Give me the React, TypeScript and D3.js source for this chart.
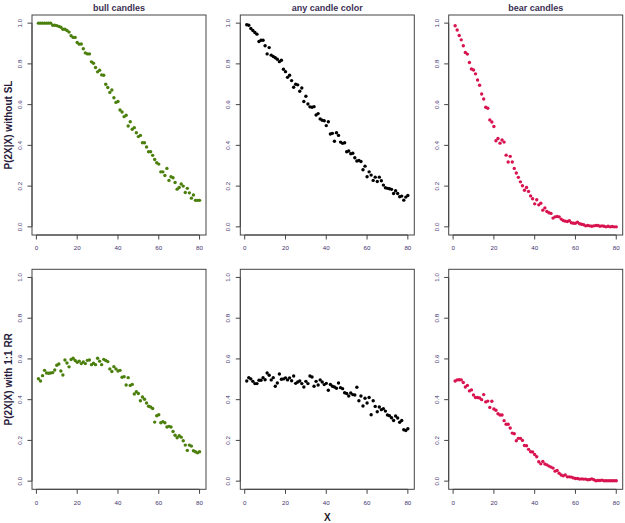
import * as d3 from 'd3'

// x position of each point (lookback X)
const xValues = d3.range(1, 81)

const xTicks = [0, 20, 40, 60, 80]
const yTicks = [0, 0.2, 0.4, 0.6, 0.8, 1.0]

const titles = ['bull candles', 'any candle color', 'bear candles']
const rowLabels = ['P(2X|X) without SL', 'P(2X|X) with 1:1 RR']

// P(2X|X) without SL
const bullNoSL = [
  1.0, 1.0, 1.0, 1.0, 1.0, 1.0, 1.0, 0.99, 0.99, 0.988,
  0.984, 0.98, 0.97, 0.97, 0.964, 0.956, 0.938, 0.93, 0.93, 0.905,
  0.897, 0.898, 0.874, 0.854, 0.849, 0.849, 0.81, 0.803, 0.782, 0.761,
  0.769, 0.746, 0.744, 0.70, 0.684, 0.66, 0.672, 0.634, 0.611, 0.615,
  0.574, 0.564, 0.541, 0.548, 0.495, 0.516, 0.479, 0.487, 0.462, 0.443,
  0.449, 0.413, 0.413, 0.392, 0.369, 0.369, 0.351, 0.331, 0.315, 0.308,
  0.27, 0.27, 0.252, 0.287, 0.228, 0.246, 0.241, 0.218, 0.185, 0.193,
  0.21, 0.20, 0.169, 0.189, 0.167, 0.141, 0.156, 0.13, 0.13, 0.13,
]
const anyNoSL = [
  0.992, 0.99, 0.974, 0.964, 0.954, 0.946, 0.91, 0.916, 0.916, 0.889,
  0.849, 0.88, 0.843, 0.836, 0.83, 0.823, 0.811, 0.818, 0.774, 0.762,
  0.734, 0.744, 0.718, 0.685, 0.70, 0.697, 0.666, 0.682, 0.615, 0.641,
  0.603, 0.589, 0.587, 0.59, 0.549, 0.556, 0.53, 0.523, 0.521, 0.497,
  0.516, 0.456, 0.459, 0.42, 0.462, 0.449, 0.416, 0.41, 0.413, 0.369,
  0.372, 0.359, 0.361, 0.339, 0.323, 0.326, 0.321, 0.28, 0.298, 0.246,
  0.27, 0.254, 0.228, 0.244, 0.223, 0.244, 0.226, 0.205, 0.192, 0.189,
  0.187, 0.184, 0.164, 0.177, 0.164, 0.148, 0.151, 0.131, 0.146, 0.154,
]
const bearNoSL = [
  0.987, 0.966, 0.939, 0.918, 0.889, 0.856, 0.848, 0.807, 0.775, 0.77,
  0.751, 0.721, 0.695, 0.652, 0.628, 0.587, 0.582, 0.525, 0.515, 0.493,
  0.423, 0.434, 0.411, 0.426, 0.416, 0.352, 0.318, 0.346, 0.318, 0.287,
  0.264, 0.243, 0.221, 0.202, 0.18, 0.193, 0.174, 0.152, 0.138, 0.113,
  0.133, 0.108, 0.116, 0.082, 0.093, 0.075, 0.069, 0.066, 0.043, 0.049,
  0.051, 0.049, 0.038, 0.031, 0.028, 0.026, 0.03, 0.02, 0.018, 0.018,
  0.023, 0.015, 0.013, 0.01, 0.005, 0.007, 0.005, 0.003, 0.005, 0.007,
  0.007, 0.003, 0.005, 0.003, 0.0, 0.003, 0.0, 0.002, 0.0, 0.0,
]

// P(2X|X) with 1:1 RR
const bullRR = [
  0.503, 0.492, 0.518, 0.544, 0.531, 0.53, 0.531, 0.533, 0.546, 0.569,
  0.575, 0.541, 0.521, 0.595, 0.58, 0.561, 0.597, 0.603, 0.592, 0.584,
  0.589, 0.577, 0.585, 0.577, 0.593, 0.595, 0.572, 0.579, 0.572, 0.603,
  0.589, 0.572, 0.598, 0.592, 0.587, 0.551, 0.538, 0.562, 0.551, 0.541,
  0.544, 0.51, 0.513, 0.472, 0.508, 0.47, 0.475, 0.428, 0.439, 0.43,
  0.395, 0.413, 0.402, 0.384, 0.368, 0.364, 0.357, 0.29, 0.321, 0.326,
  0.287, 0.292, 0.287, 0.266, 0.269, 0.266, 0.244, 0.225, 0.213, 0.223,
  0.216, 0.198, 0.177, 0.151, 0.177, 0.172, 0.149, 0.144, 0.139, 0.144,
]
const anyRR = [
  0.492, 0.508, 0.502, 0.49, 0.479, 0.479, 0.495, 0.495, 0.508, 0.498,
  0.531, 0.52, 0.497, 0.508, 0.466, 0.482, 0.526, 0.5, 0.502, 0.507,
  0.497, 0.507, 0.493, 0.516, 0.48, 0.487, 0.492, 0.479, 0.462, 0.49,
  0.479, 0.516, 0.511, 0.466, 0.49, 0.472, 0.497, 0.487, 0.474, 0.48,
  0.446, 0.475, 0.466, 0.462, 0.456, 0.482, 0.459, 0.454, 0.434, 0.43,
  0.418, 0.433, 0.425, 0.423, 0.461, 0.395, 0.418, 0.369, 0.407, 0.384,
  0.411, 0.326, 0.395, 0.367, 0.341, 0.364, 0.351, 0.356, 0.344, 0.325,
  0.321, 0.311, 0.298, 0.32, 0.31, 0.289, 0.298, 0.252, 0.249, 0.257,
]
const bearRR = [
  0.492, 0.497, 0.498, 0.497, 0.484, 0.462, 0.47, 0.443, 0.448, 0.423,
  0.411, 0.411, 0.408, 0.4, 0.425, 0.389, 0.393, 0.362, 0.392, 0.354,
  0.348, 0.331, 0.325, 0.325, 0.297, 0.279, 0.279, 0.261, 0.236, 0.233,
  0.198, 0.21, 0.21, 0.2, 0.175, 0.174, 0.156, 0.144, 0.143, 0.131,
  0.12, 0.095, 0.085, 0.097, 0.084, 0.08, 0.074, 0.069, 0.064, 0.049,
  0.052, 0.039, 0.03, 0.026, 0.031, 0.021, 0.021, 0.02, 0.016, 0.013,
  0.013, 0.01, 0.011, 0.01, 0.01, 0.007, 0.008, 0.011, 0.007, 0.002,
  0.003, 0.003, 0.005, 0.002, 0.002, 0.002, 0.002, 0.002, 0.002, 0.002,
]

const colors = ['#4b7f0c', '#000000', '#d8134f']
const series = [
  [bullNoSL, anyNoSL, bearNoSL],
  [bullRR, anyRR, bearRR],
]

const W = 625
const H = 523
const colLeft = [32, 240.3, 448.7]
const rowTop = [15, 269.3]
const boxW = 174
const boxH = 220

const axisColor = '#444'
const tickTextColor = '#3f326e'
const font = 'Liberation Sans, Arial, sans-serif'

function Panel({ row, col }: { row: number; col: number }) {
  const left = colLeft[col]
  const top = rowTop[row]
  const values = series[row][col]

  // R-style 4% padding around the data range
  const x = d3.scaleLinear().domain([-2.16, 83.16]).range([left, left + boxW])
  const y = d3.scaleLinear().domain([-0.04, 1.04]).range([top + boxH, top])
  const bottom = top + boxH

  return (
    <g>
      {/* points */}
      {values.map((v, i) => (
        <circle key={i} cx={x(xValues[i])} cy={y(v)} r={1.7} fill={colors[col]} />
      ))}

      {/* box */}
      <rect x={left} y={top} width={boxW} height={boxH} fill="none" stroke={axisColor} strokeWidth={1} />

      {/* x axis */}
      <line x1={x(xTicks[0])} x2={x(xTicks[xTicks.length - 1])} y1={bottom} y2={bottom} stroke={axisColor} />
      {xTicks.map(t => (
        <g key={t}>
          <line x1={x(t)} x2={x(t)} y1={bottom} y2={bottom + 4.5} stroke={axisColor} />
          <text x={x(t)} y={bottom + 15.3} textAnchor="middle" fontSize={6.2} fill={tickTextColor} fontFamily={font}>
            {t}
          </text>
        </g>
      ))}

      {/* y axis */}
      <line x1={left} x2={left} y1={y(yTicks[0])} y2={y(yTicks[yTicks.length - 1])} stroke={axisColor} />
      {yTicks.map(t => (
        <g key={t}>
          <line x1={left - 4.5} x2={left} y1={y(t)} y2={y(t)} stroke={axisColor} />
          <text
            transform={`translate(${left - 12},${y(t)}) rotate(-90)`}
            dy="0.35em"
            textAnchor="middle"
            fontSize={6.2}
            fill={tickTextColor}
            fontFamily={font}
          >
            {t.toFixed(1)}
          </text>
        </g>
      ))}

      {row === 0 && (
        <text x={left + boxW / 2} y={10.5} textAnchor="middle" fontSize={9} fontWeight="bold" fill="#3b3052" fontFamily={font}>
          {titles[col]}
        </text>
      )}

      {col === 0 && (
        <text
          transform={`translate(8,${top + boxH / 2}) rotate(-90)`}
          dy="0.35em"
          textAnchor="middle"
          fontSize={10}
          fontWeight="bold"
          fill="#2a1c3d"
          fontFamily={font}
        >
          {rowLabels[row]}
        </text>
      )}

      {row === 1 && col === 1 && (
        <text x={left + boxW / 2} y={520.5} textAnchor="middle" fontSize={10} fontWeight="bold" fill="#1f1a2a" fontFamily={font}>
          X
        </text>
      )}
    </g>
  )
}

export default function App() {
  return (
    <svg
      width={W}
      height={H}
      style={{ position: 'absolute', left: 0, top: 0, background: '#fff' }}
    >
      <rect width={W} height={H} fill="#fff" />
      {[0, 1].map(r => [0, 1, 2].map(c => <Panel key={`${r}-${c}`} row={r} col={c} />))}
    </svg>
  )
}
